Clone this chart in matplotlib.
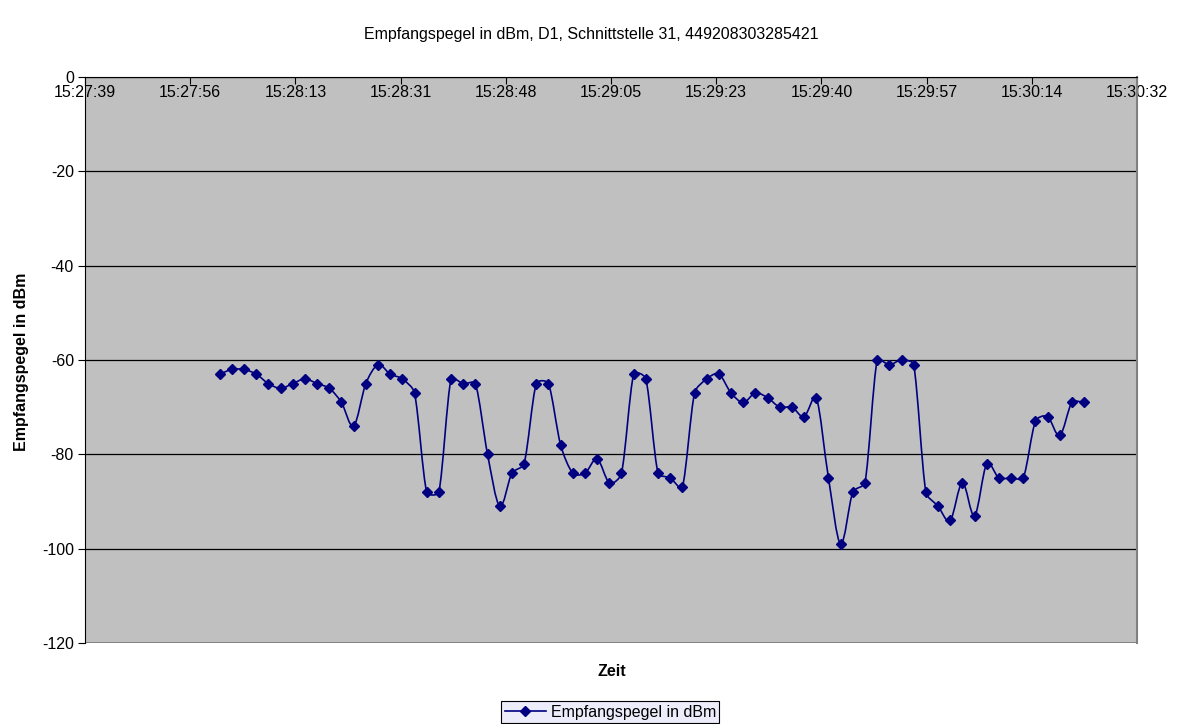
import numpy as np
import matplotlib
matplotlib.use("Agg")
import matplotlib.pyplot as plt
from matplotlib.path import Path
from matplotlib.patches import PathPatch
from matplotlib.lines import Line2D
from matplotlib.ticker import FixedLocator, FuncFormatter

plt.rcParams['font.family'] = ['Liberation Sans', 'DejaVu Sans']
plt.rcParams['axes.unicode_minus'] = False

title = "Empfangspegel in dBm, D1, Schnittstelle 31, 449208303285421"
series_name = "Empfangspegel in dBm"

times = [
    "15:28:01", "15:28:03", "15:28:05", "15:28:07", "15:28:09", "15:28:11",
    "15:28:13", "15:28:15", "15:28:17", "15:28:19", "15:28:21", "15:28:23",
    "15:28:25", "15:28:27", "15:28:29", "15:28:31", "15:28:33", "15:28:35",
    "15:28:37", "15:28:39", "15:28:41", "15:28:43", "15:28:45", "15:28:47",
    "15:28:49", "15:28:51", "15:28:53", "15:28:55", "15:28:57", "15:28:59",
    "15:29:01", "15:29:03", "15:29:05", "15:29:07", "15:29:09", "15:29:11",
    "15:29:13", "15:29:15", "15:29:17", "15:29:19", "15:29:21", "15:29:23",
    "15:29:25", "15:29:27", "15:29:29", "15:29:31", "15:29:33", "15:29:35",
    "15:29:37", "15:29:39", "15:29:41", "15:29:43", "15:29:45", "15:29:47",
    "15:29:49", "15:29:51", "15:29:53", "15:29:55", "15:29:57", "15:29:59",
    "15:30:01", "15:30:03", "15:30:05", "15:30:07", "15:30:09", "15:30:11",
    "15:30:13", "15:30:15", "15:30:17", "15:30:19", "15:30:21", "15:30:23",
]

pegel = [
    -63, -62, -62, -63, -65, -66, -65, -64, -65, -66, -69, -74,
    -65, -61, -63, -64, -67, -88, -88, -64, -65, -65, -80, -91,
    -84, -82, -65, -65, -78, -84, -84, -81, -86, -84, -63, -64,
    -84, -85, -87, -67, -64, -63, -67, -69, -67, -68, -70, -70,
    -72, -68, -85, -99, -88, -86, -60, -61, -60, -61, -88, -91,
    -94, -86, -93, -82, -85, -85, -85, -73, -72, -76, -69, -69,
]

# Excel date axis: 0.0002 day major unit
axis_min_days = 0.6442
axis_max_days = 0.6462
major_days = 0.0002


def to_sec(s):
    h, m, sec = s.split(":")
    return int(h) * 3600 + int(m) * 60 + int(sec)


def fmt_time(x, pos=None):
    s = int(round(x))
    return f"{s // 3600:02d}:{(s % 3600) // 60:02d}:{s % 60:02d}"


def smooth_path(ax, x, y):
    # bezier smoothing in screen space, Catmull-Rom tangents limited by
    # the length of the segment itself (keeps flat pairs from overshooting)
    pts = ax.transData.transform(np.column_stack([x, y]))
    n = len(pts)
    tang = []
    for i in range(n):
        d = pts[min(i + 1, n - 1)] - pts[max(i - 1, 0)]
        tang.append((d / np.hypot(*d), np.hypot(*d) / 6))
    verts = [pts[0]]
    codes = [Path.MOVETO]
    for i in range(n - 1):
        seg = np.hypot(*(pts[i + 1] - pts[i]))
        u0, l0 = tang[i]
        u1, l1 = tang[i + 1]
        verts += [pts[i] + u0 * min(l0, seg / 3),
                  pts[i + 1] - u1 * min(l1, seg / 3),
                  pts[i + 1]]
        codes += [Path.CURVE4] * 3
    verts = ax.transData.inverted().transform(np.array(verts))
    return Path(verts, codes)


t = np.array([to_sec(s) for s in times], dtype=float)
v = np.array(pegel, dtype=float)

line_color = "#000080"

fig = plt.figure(figsize=(11.83, 7.24), dpi=100)
ax = fig.add_axes([0.0719, 0.1119, 0.8892, 0.7817])
ax.set_facecolor("#C0C0C0")

x_min = axis_min_days * 86400
x_max = axis_max_days * 86400
ax.set_xlim(x_min, x_max)
ax.set_ylim(-120, 0)

ax.add_patch(PathPatch(smooth_path(ax, t, v), facecolor="none",
                       edgecolor=line_color, lw=1.2, zorder=3))
ax.plot(t, v, linestyle="none", marker="D", markersize=5.5,
        color=line_color, zorder=4)

# gridlines
ax.set_yticks(np.arange(-120, 1, 20))
ax.yaxis.grid(True, color="black", lw=0.9)
ax.set_axisbelow(True)

# x axis crosses at 0 (top of plot)
ax.spines["bottom"].set_position(("data", 0))
ax.spines["bottom"].set_color("black")
ax.spines["left"].set_color("black")
ax.spines["top"].set_visible(False)
ax.spines["right"].set_color("#808080")
ax.spines["right"].set_linewidth(1.5)

xt = [x_min + k * major_days * 86400 for k in range(11)]
ax.xaxis.set_major_locator(FixedLocator(xt))
ax.xaxis.set_major_formatter(FuncFormatter(fmt_time))
ax.tick_params(axis="x", direction="out", length=5, pad=0.5, labelsize=11.5)
ax.tick_params(axis="y", direction="out", length=5, pad=3, labelsize=11.5)
ax.axhline(-120, color="#808080", lw=2.0, zorder=2)

fig.text(0.5, 0.953, title, ha="center", va="center", fontsize=11.5)
fig.text(0.517, 0.073, "Zeit", ha="center", va="center",
         fontsize=11.5, fontweight="bold")
fig.text(0.018, 0.5, series_name, ha="center", va="center", rotation=90,
         fontsize=11.5, fontweight="bold")

handle = Line2D([], [], color=line_color, marker="D", markersize=5.5, lw=1.2)
leg = fig.legend([handle], [series_name], loc="center",
                 bbox_to_anchor=(0.516, 0.0165), fontsize=11.5,
                 frameon=True, fancybox=False, borderpad=0.2,
                 handlelength=2.6, handletextpad=0.3, borderaxespad=0)
leg.get_frame().set_facecolor("#ECECFA")
leg.get_frame().set_edgecolor("black")
leg.get_frame().set_linewidth(0.8)
leg.get_frame().set_alpha(1)

fig.savefig("out.png", dpi=100)
